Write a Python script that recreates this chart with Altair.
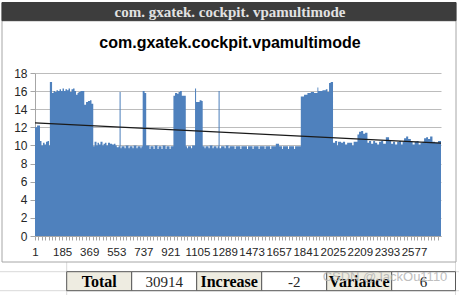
import altair as alt
import pandas as pd

# ---------------- data ----------------
N_POINTS = 2760
seg_start = [0, 14, 34, 44, 54, 65, 75, 85, 95, 101, 116, 126, 136, 146, 156, 167, 177, 187, 197, 207,
             218, 228, 238, 248, 258, 269, 279, 289, 296, 309, 335, 347, 360, 374, 384, 396, 405, 418, 425, 435,
             445, 459, 466, 476, 486, 496, 510, 524, 537, 547, 556, 568, 575, 582, 588, 609, 616, 636, 643, 663,
             670, 690, 697, 718, 723, 732, 745, 756, 779, 785, 806, 813, 833, 840, 860, 867, 888, 894, 915, 922,
             941, 952, 966, 976, 986, 998, 1025, 1034, 1040, 1061, 1068, 1088, 1095, 1119, 1132, 1140, 1153, 1159, 1180, 1187,
             1207, 1214, 1234, 1241, 1248, 1255, 1265, 1289, 1296, 1316, 1323, 1357, 1364, 1396, 1403, 1441, 1448, 1479, 1486, 1520,
             1527, 1561, 1567, 1599, 1606, 1637, 1659, 1680, 1686, 1720, 1727, 1761, 1768, 1807, 1829, 1852, 1875, 1897, 1920, 1926,
             1954, 1977, 1988, 1999, 2010, 2026, 2040, 2054, 2060, 2081, 2094, 2108, 2122, 2142, 2156, 2166, 2192, 2203, 2217, 2231,
             2244, 2260, 2271, 2285, 2299, 2312, 2326, 2339, 2353, 2367, 2385, 2407, 2421, 2434, 2448, 2462, 2475, 2489, 2499, 2509,
             2523, 2537, 2555, 2567, 2581, 2594, 2608, 2621, 2635, 2645, 2659, 2672, 2686, 2702, 2720, 2740]
seg_value = [12.0, 12.2, 10.5, 10.0, 10.3, 10.1, 10.4, 10.5, 10.0, 17.0, 15.8, 16.0, 15.9, 16.1, 16.0, 16.2, 16.0, 16.3, 16.0, 16.2,
             16.1, 16.3, 15.9, 16.2, 16.3, 16.0, 15.6, 15.8, 15.9, 16.0, 14.5, 14.8, 14.9, 15.0, 14.6, 9.9, 10.4, 10.0, 10.3, 10.1,
             10.4, 10.0, 10.2, 10.3, 10.0, 10.3, 10.2, 10.1, 10.2, 10.0, 9.8, 9.9, 15.9, 9.7, 9.9, 9.7, 10.0, 9.7, 9.9, 9.7,
             10.0, 9.7, 9.9, 9.7, 9.9, 16.0, 15.8, 10.0, 9.6, 9.9, 9.6, 10.0, 9.6, 9.9, 9.6, 10.0, 9.6, 9.9, 9.6, 9.9,
             15.5, 15.8, 15.7, 15.9, 16.0, 15.5, 9.9, 9.7, 9.9, 9.7, 10.0, 16.3, 14.8, 15.0, 14.9, 9.9, 9.7, 9.9, 9.7, 10.0,
             9.7, 9.9, 9.7, 9.9, 16.0, 9.7, 9.9, 9.7, 10.0, 9.7, 9.9, 9.6, 9.9, 9.6, 9.9, 9.6, 9.9, 9.6, 9.9, 9.6,
             9.9, 9.6, 9.9, 9.6, 9.9, 10.2, 9.9, 9.6, 9.9, 9.6, 9.9, 9.6, 9.9, 15.4, 15.6, 15.8, 15.9, 15.8, 16.4, 16.0,
             16.1, 16.2, 15.9, 16.9, 17.0, 10.3, 10.5, 10.0, 10.4, 10.3, 10.4, 10.1, 10.3, 10.3, 10.0, 10.4, 11.2, 11.5, 11.6, 11.3,
             11.4, 10.3, 10.5, 10.2, 10.5, 10.3, 10.1, 10.4, 10.5, 10.2, 10.9, 10.5, 10.2, 10.4, 10.1, 10.4, 10.5, 10.1, 10.4, 10.8,
             11.0, 10.7, 10.4, 10.1, 10.4, 10.5, 10.1, 10.3, 10.4, 10.8, 10.9, 10.7, 11.0, 10.4, 10.3, 10.5]
trend_x = [0, 2760]
trend_y = [12.5, 10.25]
y_ticks = [0, 2, 4, 6, 8, 10, 12, 14, 16, 18]
x_label_step = 184
x_tick_step = 23
title_text = "com.gxatek.cockpit.vpamultimode"
header_text = "com. gxatek. cockpit. vpamultimode"
summary_labels = ["Total", "Increase", "Variance"]
summary_values = ["30914", "-2", "6"]
watermark_text = "CSDN @JackOu1110"

# ---------------- layout (pixels) ----------------
W, H = 406, 163
OX, OY = 35, 73          # plot origin in the page
PAGE_W, PAGE_H = 459, 295

def px(x):
    return x - OX

def py(y):
    return y - OY

# step outline: each value holds from its start to the next start (last one to the end)
area_df = pd.DataFrame({
    "pos": seg_start + [N_POINTS],
    "value": seg_value + [seg_value[-1]],
})
trend_df = pd.DataFrame({"x": trend_x, "y": trend_y})

tick_vals = [0.5 + x_tick_step * k for k in range(N_POINTS // x_tick_step + 1) if 0.5 + x_tick_step * k < N_POINTS]

xscale = alt.Scale(domain=[0, N_POINTS], nice=False, zero=False)
yscale = alt.Scale(domain=[0, 18], nice=False)

x_axis = alt.Axis(
    values=tick_vals, grid=False, title=None, labelAngle=0, labelOverlap=False,
    labelFlush=False, labelBound=False,
    labelExpr=f"((datum.value - 0.5) % {x_label_step} == 0) ? format(datum.value + 0.5, 'd') : ''",
    domainColor="#a6a6a6", tickColor="#a6a6a6", tickSize=4, labelPadding=6,
    labelFont="Liberation Sans", labelFontSize=11.5, labelColor="#262626")
y_axis = alt.Axis(
    values=y_ticks, grid=True, gridColor="#bcbcbc", title=None, labelOverlap=False,
    domainColor="#a6a6a6", tickColor="#a6a6a6", tickSize=5, labelPadding=3,
    labelFont="Liberation Sans", labelFontSize=12, labelColor="#262626")

bars = alt.Chart(area_df).mark_area(color="#4f81bd", opacity=1, interpolate="step-after").encode(
    x=alt.X("pos:Q", scale=xscale, axis=x_axis),
    y=alt.Y("value:Q", scale=yscale, axis=y_axis),
    y2=alt.datum(0),
)

trend = alt.Chart(trend_df).mark_line(color="#1a1a1a", strokeWidth=1.2).encode(
    x=alt.X("x:Q", scale=xscale, axis=x_axis),
    y=alt.Y("y:Q", scale=yscale, axis=y_axis),
)

# ---------------- decorations (pixel positions) ----------------
cell_edges = [66.7, 131.7, 196.7, 261.7, 326.7, 391.7, 455.5]
row_top, row_bot = 271.7, 290.7

rects = [
    # chart frame (outline only)
    dict(x=px(2), x2=px(456), y=py(2.5), y2=py(262), fill="transparent", stroke="#a6a6a6"),
    # header bar
    dict(x=px(2), x2=px(456), y=py(2.5), y2=py(20.7), fill="#3d3d3d", stroke="#3d3d3d"),
]
for i in range(6):
    rects.append(dict(x=px(cell_edges[i]), x2=px(cell_edges[i + 1]), y=py(row_top), y2=py(row_bot),
                      fill="#eeece1" if i % 2 == 0 else "#ffffff", stroke="#595959"))
rect_df = pd.DataFrame(rects)

sheet_lines = pd.DataFrame([
    dict(x=px(0), x2=px(459), y=py(row_top), y2=py(row_top)),
    dict(x=px(0), x2=px(459), y=py(row_bot), y2=py(row_bot)),
    dict(x=px(cell_edges[0]), x2=px(cell_edges[0]), y=py(262), y2=py(295)),
    dict(x=px(cell_edges[-1]), x2=px(cell_edges[-1]), y=py(262), y2=py(295)),
])

def pix_enc(extra=None):
    enc = dict(
        x=alt.X("x:Q", scale=None, axis=None),
        y=alt.Y("y:Q", scale=None, axis=None),
    )
    if extra:
        enc.update(extra)
    return enc

sheet_layer = alt.Chart(sheet_lines).mark_rule(color="#d9d9d9", strokeWidth=1).encode(
    **pix_enc({"x2": "x2:Q", "y2": "y2:Q"}))

rect_layer = alt.Chart(rect_df).mark_rect(strokeWidth=1).encode(
    **pix_enc({"x2": "x2:Q", "y2": "y2:Q",
               "fill": alt.Fill("fill:N", scale=None),
               "stroke": alt.Stroke("stroke:N", scale=None)}))

title_df = pd.DataFrame([dict(x=px(230), y=py(43), t=title_text)])
title_layer = alt.Chart(title_df).mark_text(
    font="Liberation Sans", fontSize=16, fontWeight="bold", color="#000000", baseline="middle", align="center"
).encode(**pix_enc({"text": "t:N"}))

header_df = pd.DataFrame([dict(x=px(230), y=py(12), t=header_text)])
header_layer = alt.Chart(header_df).mark_text(
    font="Liberation Serif", fontSize=15, fontWeight="bold", color="#e2e2e2", baseline="middle", align="center"
).encode(**pix_enc({"text": "t:N"}))

lab_df = pd.DataFrame([dict(x=px((cell_edges[2 * i] + cell_edges[2 * i + 1]) / 2), y=py((row_top + row_bot) / 2 + 0.5),
                            t=summary_labels[i]) for i in range(3)])
lab_layer = alt.Chart(lab_df).mark_text(
    font="Liberation Serif", fontSize=16, fontWeight="bold", color="#000000", baseline="middle", align="center"
).encode(**pix_enc({"text": "t:N"}))

val_df = pd.DataFrame([dict(x=px((cell_edges[2 * i + 1] + cell_edges[2 * i + 2]) / 2), y=py((row_top + row_bot) / 2 + 0.5),
                            t=summary_values[i]) for i in range(3)])
val_layer = alt.Chart(val_df).mark_text(
    font="Liberation Serif", fontSize=15, color="#262626", baseline="middle", align="center"
).encode(**pix_enc({"text": "t:N"}))

wm_df = pd.DataFrame([dict(x=px(385), y=py(277), t=watermark_text)])
wm_layer = alt.Chart(wm_df).mark_text(
    font="Liberation Sans", fontSize=13, color="#b4b4b4", opacity=0.85, baseline="middle", align="center"
).encode(**pix_enc({"text": "t:N"}))

chart = alt.layer(
    bars, trend, sheet_layer, rect_layer, title_layer, header_layer, lab_layer, val_layer, wm_layer
).properties(
    width=W, height=H,
    padding={"left": OX, "top": OY, "right": PAGE_W - OX - W, "bottom": PAGE_H - OY - H},
    autosize=alt.AutoSizeParams(type="none"),
    background="#ffffff",
).configure_view(stroke=None)

chart.save("out.html", embed_options={"renderer": "svg", "actions": False})
